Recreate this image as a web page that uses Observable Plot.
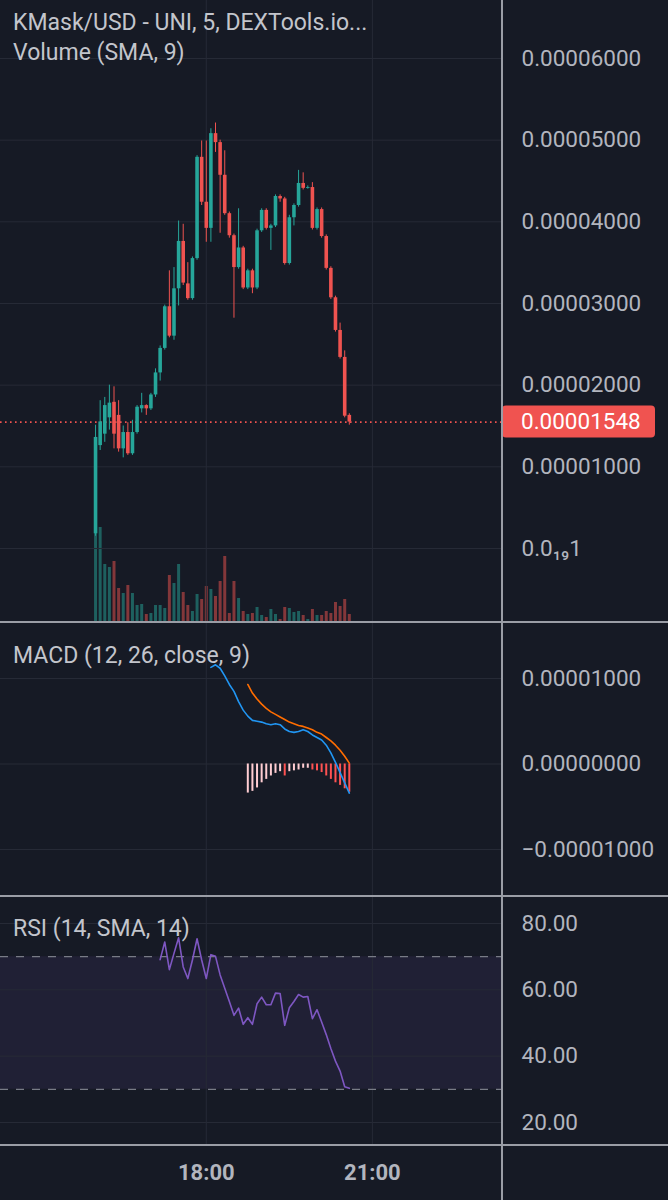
<!DOCTYPE html>
<html><head><meta charset="utf-8">
<script src="https://cdn.jsdelivr.net/npm/d3@7"></script>
<script src="https://cdn.jsdelivr.net/npm/@observablehq/plot@0.6"></script>
<style>
html,body{margin:0;padding:0;background:#161a25;}
#wrap{position:relative;width:668px;height:1200px;overflow:hidden;background:#161a25;font-family:Roboto,"Noto Sans",sans-serif;}
.layer{position:absolute;left:0;}
.layer svg{overflow:visible;display:block;}
.hdr{position:absolute;left:13px;color:#c3c5cc;font-size:23px;line-height:23px;white-space:nowrap;}
.sep{position:absolute;background:#9a9da6;}
</style></head><body><div id="wrap"></div>
<script>
// ---- data (prices in units of 1e-5 USD) ----
const times = ["16:00","16:05","16:10","16:15","16:20","16:25","16:30","16:35","16:40","16:45","16:50","16:55",
"17:00","17:05","17:10","17:15","17:20","17:25","17:30","17:35","17:40","17:45","17:50","17:55",
"18:00","18:05","18:10","18:15","18:20","18:25","18:30","18:35","18:40","18:45","18:50","18:55",
"19:00","19:05","19:10","19:15","19:20","19:25","19:30","19:35","19:40","19:45","19:50","19:55",
"20:00","20:05","20:10","20:15","20:20","20:25","20:30","20:35"];
const open = [0.18,1.26,1.40,1.60,1.79,1.63,1.22,1.42,1.16,1.42,1.71,1.75,1.71,1.88,2.15,2.45,2.96,2.60,3.18,3.76,3.24,3.06,3.55,4.79,4.24,3.92,5.08,4.97,4.57,4.10,3.83,3.44,3.68,3.19,3.40,3.19,3.89,4.14,3.92,3.95,4.31,4.28,3.49,4.05,4.20,4.47,4.41,4.42,3.92,4.15,3.82,3.43,3.07,2.67,2.34,1.63];
const high = [1.51,1.81,1.85,2.00,1.98,1.81,1.50,1.54,1.57,1.75,1.90,1.76,1.90,2.20,2.48,2.98,3.40,3.44,4.01,3.97,3.50,3.57,4.81,4.99,4.99,5.14,5.21,5.00,4.87,4.12,3.85,4.16,3.70,3.42,3.42,3.91,4.16,4.16,3.97,4.33,4.33,4.30,4.08,4.22,4.63,4.60,4.44,4.48,4.17,4.17,3.84,3.45,3.09,2.76,2.42,1.65];
const low = [0.15,1.20,1.30,1.45,1.22,1.18,1.11,1.14,1.14,1.40,1.66,1.63,1.69,1.85,2.05,2.43,2.58,2.55,2.97,3.22,3.04,3.04,3.53,4.20,3.75,3.75,4.85,3.86,4.08,3.80,2.82,3.42,3.17,3.17,3.12,3.17,3.87,3.90,3.65,3.93,4.24,3.47,3.47,3.95,4.18,4.39,4.40,3.90,3.90,3.80,3.41,3.05,2.65,2.32,1.60,1.51];
const close = [1.36,1.55,1.75,1.78,1.40,1.22,1.42,1.16,1.42,1.73,1.75,1.71,1.88,2.15,2.45,2.96,2.60,3.18,3.76,3.25,3.06,3.55,4.79,4.24,3.92,5.08,4.97,4.57,4.10,3.83,3.44,3.68,3.19,3.40,3.19,3.89,4.14,3.92,3.95,4.31,4.28,3.49,4.05,4.20,4.47,4.41,4.42,3.92,4.15,3.82,3.43,3.07,2.67,2.34,1.62,1.548];
const volume = [97,95,58,55,61,34,29,37,29,17,18,8,9,17,17,14,47,39,58,30,17,11,28,23,36,33,26,41,66,9,41,24,11,8,9,15,7,5,13,8,3,15,14,10,11,7,3,13,7,7,11,9,20,16,23,8];
const macdLine = [null,null,null,null,null,null,null,null,null,null,null,null,null,null,null,null,null,null,null,null,null,null,null,null,null,
1.13,1.16,1.12,1.03,0.93,0.85,0.73,0.63,0.56,0.51,0.50,0.49,0.47,0.46,0.47,0.46,0.41,0.38,0.37,0.38,0.40,0.38,0.34,0.31,0.28,0.22,0.13,0.02,-0.10,-0.22,-0.34];
const signalLine = [null,null,null,null,null,null,null,null,null,null,null,null,null,null,null,null,null,null,null,null,null,null,null,null,null,null,null,null,null,null,null,null,null,
0.93,0.83,0.76,0.70,0.65,0.61,0.58,0.55,0.52,0.49,0.47,0.45,0.44,0.42,0.40,0.37,0.35,0.31,0.27,0.22,0.16,0.09,0.01];
const histogram = [null,null,null,null,null,null,null,null,null,null,null,null,null,null,null,null,null,null,null,null,null,null,null,null,null,null,null,null,null,null,null,null,null,
-0.34,-0.32,-0.28,-0.22,-0.18,-0.14,-0.11,-0.09,-0.14,-0.09,-0.08,-0.07,-0.05,-0.05,-0.07,-0.08,-0.10,-0.14,-0.18,-0.22,-0.25,-0.29,-0.33];
const rsi = [null,null,null,null,null,null,null,null,null,null,null,null,null,null,
69.1,74.4,66.1,71.0,75.7,66.9,63.4,69.0,75.4,69.0,63.4,70.6,70.1,64.5,60.5,56.5,52.3,54.5,49.6,51.6,49.6,55.8,57.8,55.5,55.5,59.0,58.9,49.3,54.6,56.5,58.6,57.8,58.0,51.3,54.0,50.3,46.5,42.3,38.5,35.5,30.8,30.3];
const priceTicks = [0,1,2,3,4,5,6];
const macdTicks = [-1,0,1];
const rsiTicks = [20,40,60,80];
const rsiLevels = [30,70];
const rsiBand = [{lo:30, hi:70}];
const timeTicks = ["18:00","21:00"];
const lastPrice = 1.548;
const domainTimes = ["14:17","23:21"];

// ---- styles ----
const GREEN = "#26a69a", RED = "#ef5350";
const GRID = "#262a36", TXT = "#b2b5be";
const parse = d3.utcParse("%H:%M");
const data = times.map((t,i)=>({t:parse(t), o:open[i], h:high[i], l:low[i], c:close[i], v:volume[i],
  m:macdLine[i], s:signalLine[i], hist:histogram[i], r:rsi[i]}));
data.forEach((d,i)=>{ d.up = d.c >= d.o; d.hp = i>0 ? data[i-1].hist : null; });
const W = 668, MR = 166;
const xs = {type:"utc", domain: domainTimes.map(parse), axis:null};
const baseStyle = {background:"transparent", color:TXT, fontFamily:"Roboto, 'Noto Sans', sans-serif", fontSize:"22.5px", overflow:"visible"};
const fmtPrice = v => v === 0 ? "0.0\u2081\u20891" : (v*1e-5).toFixed(8);
const fmtMacd = v => (v < 0 ? "\u2212" : "") + (Math.abs(v)*1e-5).toFixed(8);
const wrap = document.getElementById("wrap");
function layer(top, node){ const d=document.createElement("div"); d.className="layer"; d.style.top=top+"px"; d.appendChild(node); wrap.appendChild(d); return d; }

// volume (behind)
const volPlot = Plot.plot({
  width:W, height:622, marginLeft:0, marginRight:MR, marginTop:0, marginBottom:0, style:baseStyle,
  x: xs, y:{domain:[0,100], range:[622,522], axis:null},
  marks:[
    Plot.ruleX(data, {x:"t", y1:d=>0, y2:"v", stroke:d=>d.up?GREEN:RED, strokeOpacity:0.5, strokeWidth:3})
  ]
});
layer(0, volPlot);

// price
const pricePlot = Plot.plot({
  width:W, height:622, marginLeft:0, marginRight:MR, marginTop:0, marginBottom:0, style:baseStyle,
  x: xs, y:{domain:[0,6], range:[548,58]},
  marks:[
    Plot.gridY(priceTicks, {stroke:GRID, strokeOpacity:1}),
    Plot.gridX(timeTicks.map(parse), {stroke:GRID, strokeOpacity:1}),
    Plot.ruleY([lastPrice], {stroke:RED, strokeWidth:1.6, strokeDasharray:"1.6,3.4"}),
    Plot.ruleX(data, {x:"t", y1:"l", y2:"h", stroke:d=>d.up?GREEN:RED, strokeWidth:1}),
    Plot.ruleX(data, {x:"t", y1:"o", y2:"c", stroke:d=>d.up?GREEN:RED, strokeWidth:3.6}),
    Plot.axisY(priceTicks, {anchor:"right", tickSize:0, tickPadding:19, tickFormat:fmtPrice, fill:TXT, fontSize:22.5}),
    (index, scales, values, dims) => {
      const y = scales.y(lastPrice), x0 = dims.width - dims.marginRight;
      const g = d3.create("svg:g");
      g.append("rect").attr("x", x0).attr("y", y-16).attr("width", 153).attr("height", 32).attr("rx", 4).attr("fill", "#f05350");
      g.append("text").attr("x", x0+19).attr("y", y).attr("dy","0.35em").attr("fill","#ffffff")
        .attr("text-anchor","start").attr("font-size", 22.5).text((lastPrice*1e-5).toFixed(8));
      return g.node();
    }
  ]
});
layer(0, pricePlot);

// MACD
const macdPlot = Plot.plot({
  width:W, height:274, marginLeft:0, marginRight:MR, marginTop:0, marginBottom:0, style:baseStyle,
  x: xs, y:{domain:[-1,1], range:[227,56]},
  marks:[
    Plot.gridY(macdTicks, {stroke:GRID, strokeOpacity:1}),
    Plot.gridX(timeTicks.map(parse), {stroke:GRID, strokeOpacity:1}),
    Plot.ruleX(data.filter(d=>d.hist!=null), {x:"t", y1:d=>0, y2:"hist", strokeWidth:2,
      stroke:d=> (d.hp==null || d.hist>=d.hp) ? "#ffcdd2" : "#ff5252"}),
    Plot.line(data.filter(d=>d.m!=null), {x:"t", y:"m", stroke:"#2196f3", strokeWidth:1.6}),
    Plot.line(data.filter(d=>d.s!=null), {x:"t", y:"s", stroke:"#ff6d00", strokeWidth:1.6}),
    Plot.axisY(macdTicks, {anchor:"right", tickSize:0, tickPadding:19, tickFormat:fmtMacd, fill:TXT, fontSize:22.5})
  ]
});
layer(622, macdPlot);

// RSI + time axis
const rsiPlot = Plot.plot({
  width:W, height:304, marginLeft:0, marginRight:MR, marginTop:0, marginBottom:55, style:baseStyle,
  x: xs, y:{domain:[20,80], range:[226,27]},
  marks:[
    Plot.rect(rsiBand, {y1:"lo", y2:"hi", fill:"#7e57c2", fillOpacity:0.1}),
    Plot.gridY(rsiTicks, {stroke:GRID, strokeOpacity:1}),
    Plot.gridX(timeTicks.map(parse), {stroke:GRID, strokeOpacity:1}),
    Plot.ruleY(rsiLevels, {stroke:"#787b86", strokeDasharray:"8,8", strokeWidth:1.2}),
    Plot.line(data.filter(d=>d.r!=null), {x:"t", y:"r", stroke:"#7e57c2", strokeWidth:1.6}),
    Plot.axisY(rsiTicks, {anchor:"right", tickSize:0, tickPadding:19, tickFormat:d=>d.toFixed(2), fill:TXT, fontSize:22.5}),
    Plot.axisX(timeTicks.map(parse), {anchor:"bottom", label:null, tickSize:0, tickPadding:19, tickFormat:d3.utcFormat("%H:%M"), fill:TXT, fontSize:22, fontWeight:"bold"})
  ]
});
layer(896, rsiPlot);

// separators
[[0,621,668,2],[0,895,668,2],[0,1144,668,2],[501,0,2,1200]].forEach(([x,y,w,h])=>{
  const s=document.createElement("div"); s.className="sep";
  Object.assign(s.style,{left:x+"px",top:y+"px",width:w+"px",height:h+"px"}); wrap.appendChild(s);
});
// headers
[["KMask/USD - UNI, 5, DEXTools.io...",11],["Volume (SMA, 9)",41],["MACD (12, 26, close, 9)",644],["RSI (14, SMA, 14)",917]].forEach(([t,y])=>{
  const h=document.createElement("div"); h.className="hdr"; h.style.top=y+"px"; h.textContent=t; wrap.appendChild(h);
});
</script></body></html>
